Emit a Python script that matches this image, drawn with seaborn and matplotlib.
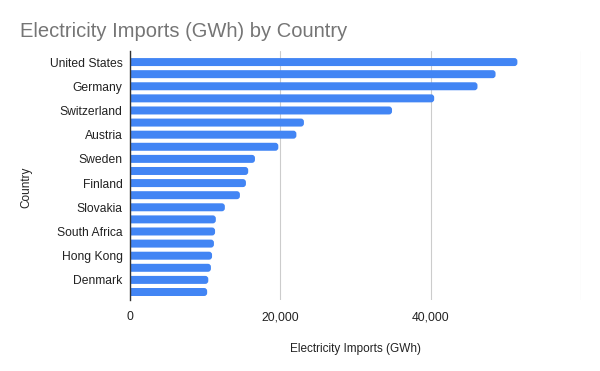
import pandas as pd
import seaborn as sns
import matplotlib.pyplot as plt
from matplotlib.patches import FancyBboxPatch

# data (every other country label is hidden in the original)
countries = ["United States", "Italy", "Germany", "Netherlands", "Switzerland",
             "United Kingdom", "Austria", "France", "Sweden", "Belgium",
             "Finland", "Norway", "Slovakia", "Hungary", "South Africa",
             "Croatia", "Hong Kong", "Czechia", "Denmark", "Poland"]
imports_gwh = [51500, 48600, 46200, 40450, 34850, 23150, 22150, 19750, 16650, 15750,
               15450, 14650, 12650, 11450, 11350, 11200, 10950, 10800, 10450, 10300]
x_ticks = [0, 20000, 40000]

df = pd.DataFrame({"Country": countries, "Electricity Imports (GWh)": imports_gwh})

sns.set_theme(style="white")
plt.rcParams["font.family"] = ["Liberation Sans", "DejaVu Sans"]

fig = plt.figure(figsize=(6, 3.71), dpi=100)
ax = fig.add_axes([0.216, 0.1914, 0.753, 0.671])

sns.barplot(data=df, y="Country", x="Electricity Imports (GWh)", color="#4285f4",
            saturation=1, width=0.66, ax=ax, zorder=3)

ax.set_xlim(0, 60000)
ax.set_ylim(len(countries) - 1 + 0.66, -0.91)

# rounded right ends like the original
fig.canvas.draw()
sx = ax.transData.transform((1, 0))[0] - ax.transData.transform((0, 0))[0]
sy = ax.transData.transform((0, 0))[1] - ax.transData.transform((0, 1))[1]
for p in list(ax.patches):
    x0, y0, w, h = p.get_x(), p.get_y(), p.get_width(), p.get_height()
    r = 3 / sx
    fb = FancyBboxPatch((x0 - 2 * r, y0), w + 2 * r, h,
                        boxstyle=f"round,pad=0,rounding_size={r}",
                        mutation_aspect=sx / sy, color="#4285f4", lw=0, zorder=3)
    ax.add_patch(fb)
    p.remove()

ax.set_xticks(x_ticks + [60000])
ax.set_xticklabels([f"{v:,}" for v in x_ticks] + [""])
ax.set_yticks(range(len(countries)))
ax.set_yticklabels([c if i % 2 == 0 else "" for i, c in enumerate(countries)])
ax.xaxis.grid(True, color="#cccccc", lw=0.8, zorder=0)
for s in ["top", "right", "bottom"]:
    ax.spines[s].set_visible(False)
ax.spines["left"].set_color("#333333")
ax.spines["left"].set_linewidth(1)
ax.spines["left"].set_zorder(5)
ax.tick_params(axis="both", length=0, labelsize=8.7, colors="#222222", pad=5)
ax.tick_params(axis="x", pad=8)
ax.set_xlabel("Electricity Imports (GWh)", fontsize=8.5, color="#222222", labelpad=14)
ax.set_ylabel("")
fig.text(26 / 600, 1 - 187 / 371, "Country", rotation=90, ha="center", va="center",
         fontsize=8.5, color="#222222")
fig.text(0.033, 1 - 37 / 371, "Electricity Imports (GWh) by Country", fontsize=14.5,
         color="#757575", va="baseline")

fig.savefig("out.png", dpi=100)
